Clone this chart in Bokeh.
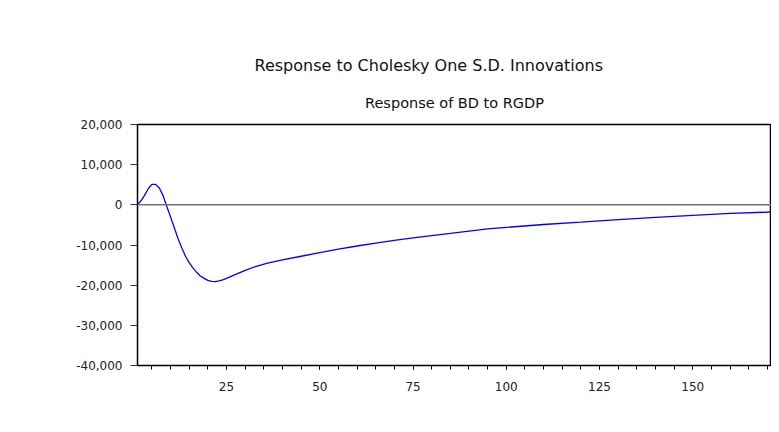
from bokeh.plotting import figure
from bokeh.models import Range1d, FixedTicker, NumeralTickFormatter, Span, Title
from bokeh.embed import file_html
from bokeh.resources import INLINE

# ---- data ----
periods = [1, 2, 3, 4, 5, 6, 7, 8, 9, 10, 11, 12, 13, 14, 15, 16, 17, 18, 19, 20,
           21, 22, 23, 24, 25, 27, 30, 33, 36, 40, 45, 50, 55, 60, 65, 70, 75, 80,
           85, 90, 95, 100, 110, 120, 130, 140, 150, 160, 172]
response = [0, 900, 2300, 4000, 5100, 5100, 4200, 2300, -400, -3000, -5700, -8400,
            -10700, -12800, -14400, -15700, -16800, -17700, -18300, -18800,
            -19050, -19100, -18950, -18700, -18300, -17500, -16300, -15300, -14500,
            -13700, -12800, -11900, -11050, -10250, -9550, -8850, -8250, -7650,
            -7100, -6520, -6000, -5620, -4900, -4300, -3680, -3120, -2600, -2150,
            -1750]
x_ticks = [25, 50, 75, 100, 125, 150]
x_minor = list(range(5, 175, 5))
y_ticks = [-40000, -30000, -20000, -10000, 0, 10000, 20000]
title_text = "Response to Cholesky One S.D. Innovations"
subtitle_text = "Response of BD to RGDP"

FONT = "DejaVu Sans"

p = figure(width=771, height=424, output_backend="svg", toolbar_location=None,
           x_range=Range1d(1.14, 171.1), y_range=Range1d(-40000, 20000),
           min_border_left=137, min_border_right=0, min_border_top=124,
           min_border_bottom=59)
p.background_fill_color = "white"
p.border_fill_color = "white"
p.grid.visible = False
p.outline_line_color = "black"
p.outline_line_width = 1.5

p.line(periods, response, line_color="#0000FF", line_width=1.3)
p.add_layout(Span(location=0, dimension="width", line_color="#707070",
                  line_width=1.5))

# x axis
xa = p.xaxis[0]
xa.ticker = FixedTicker(ticks=x_ticks, minor_ticks=x_minor)
xa.axis_line_color = "black"
xa.major_tick_in = 0
xa.major_tick_out = 4
xa.minor_tick_in = 0
xa.minor_tick_out = 4
xa.major_tick_line_color = "black"
xa.minor_tick_line_color = "black"
xa.major_label_text_font = FONT
xa.major_label_text_font_size = "12px"
xa.major_label_text_color = "#222222"
xa.major_label_standoff = 12

# y axis
ya = p.yaxis[0]
ya.ticker = FixedTicker(ticks=y_ticks, minor_ticks=[])
ya.formatter = NumeralTickFormatter(format="0,0")
ya.axis_line_color = "black"
ya.major_tick_in = 0
ya.major_tick_out = 7
ya.major_tick_line_color = "#333333"
ya.major_label_text_font = FONT
ya.major_label_text_font_size = "12px"
ya.major_label_text_color = "#222222"
ya.major_label_standoff = 8

# titles (a Title added "above" sits nearest the frame)
p.title = Title(text=title_text, align="left", offset=117, text_font=FONT,
                text_font_size="16px", text_font_style="normal",
                text_color="#111111", standoff=10)
p.add_layout(Title(text=subtitle_text, align="center", text_font=FONT,
                   text_font_size="14.5px", text_font_style="normal",
                   text_color="#111111", standoff=27), "above")

open("out.html", "w").write(file_html(p, INLINE))
